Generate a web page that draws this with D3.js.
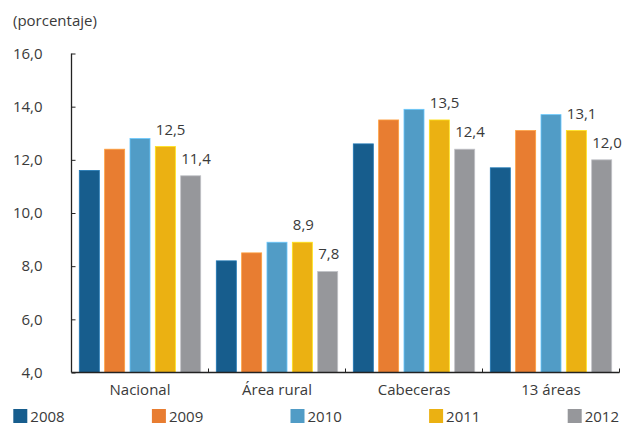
<!DOCTYPE html>
<html><head><meta charset="utf-8">
<script src="https://cdn.jsdelivr.net/npm/d3@7"></script>
<style>
html,body{margin:0;padding:0;background:#fff;}
text{font-family:"Open Sans",sans-serif;fill:#3a3a3a;}
</style></head>
<body><svg id="chart" width="623" height="426"></svg>
<script>
const categories = ["Nacional", "Área rural", "Cabeceras", "13 áreas"];
const years = ["2008", "2009", "2010", "2011", "2012"];
const v2008 = [11.6, 8.2, 12.6, 11.7];
const v2009 = [12.4, 8.5, 13.5, 13.1];
const v2010 = [12.8, 8.9, 13.9, 13.7];
const v2011 = [12.5, 8.9, 13.5, 13.1];
const v2012 = [11.4, 7.8, 12.4, 12.0];
const yTicks = [4, 6, 8, 10, 12, 14, 16];
const labelled = ["2011", "2012"];
const colors = ["#175d8d", "#e87d31", "#519cc6", "#ebb112", "#96979b"];

const series = [v2008, v2009, v2010, v2011, v2012];
const fmt = v => d3.format(".1f")(v).replace(".", ",");

const svg = d3.select("#chart");
const x0 = d3.scaleBand().domain(categories).range([71.5, 619.5]).paddingInner(0).paddingOuter(0);
const x1 = d3.scaleBand().domain(years).range([7.8, 129.2]).paddingInner(0.21).paddingOuter(0);
const y = d3.scaleLinear().domain([4, 16]).range([372.5, 53.5]);
const color = d3.scaleOrdinal().domain(years).range(colors);

const data = [];
categories.forEach((c, i) => years.forEach((yr, j) => data.push({cat: c, year: yr, value: series[j][i]})));

// bars
svg.append("g").selectAll("rect").data(data).join("rect")
  .attr("x", d => x0(d.cat) + x1(d.year))
  .attr("y", d => y(d.value))
  .attr("width", x1.bandwidth())
  .attr("height", d => y(4) - y(d.value))
  .attr("fill", d => color(d.year))
  .attr("stroke", d => d3.color(color(d.year)).brighter(0.7))
  .attr("stroke-width", 0.8);

// value labels
svg.append("g").selectAll("text").data(data.filter(d => labelled.includes(d.year))).join("text")
  .attr("x", d => x0(d.cat) + x1(d.year) + 0.5)
  .attr("y", d => y(d.value) - 12)
  .attr("font-size", 15)
  .text(d => fmt(d.value));

// y axis
const yAxis = d3.axisLeft(y).tickValues(yTicks).tickSize(-4).tickPadding(29).tickFormat(fmt);
const gy = svg.append("g").attr("transform", "translate(71.5,0)").call(yAxis);
gy.select(".domain").attr("d", `M-0,${y(16)}V${y(4)}`).attr("stroke", "#222").attr("stroke-width", 1.3);
gy.selectAll(".tick line").attr("stroke", "#222");
gy.selectAll(".tick text").attr("font-size", 15).attr("fill", "#3a3a3a").style("font-family", "Open Sans");

// x axis
const gx = svg.append("g").attr("transform", `translate(0,${y(4)})`);
gx.append("line").attr("x1", 71.5).attr("x2", 619.5).attr("stroke", "#222").attr("stroke-width", 1.3);
gx.selectAll("line.t").data(categories.slice(1)).join("line").attr("class", "t")
  .attr("x1", d => x0(d)).attr("x2", d => x0(d)).attr("y1", 0).attr("y2", -4).attr("stroke", "#222");
gx.append("line").attr("x1", 619.5).attr("x2", 619.5).attr("y1", 0).attr("y2", -4).attr("stroke", "#222");
gx.selectAll("text").data(categories).join("text")
  .attr("x", d => x0(d) + x0.bandwidth() / 2)
  .attr("y", 22.5)
  .attr("text-anchor", "middle")
  .attr("font-size", 15)
  .text(d => d);

// unit label
svg.append("text").attr("x", 13).attr("y", 26).attr("font-size", 15).text("(porcentaje)");

// legend
const lg = svg.append("g").selectAll("g").data(years).join("g")
  .attr("transform", (d, i) => `translate(${13.3 + i * 138.6},409)`);
lg.append("rect").attr("width", 14).attr("height", 14).attr("fill", d => color(d));
lg.append("text").attr("x", 17).attr("y", 13).attr("font-size", 15).text(d => d);
</script></body></html>
